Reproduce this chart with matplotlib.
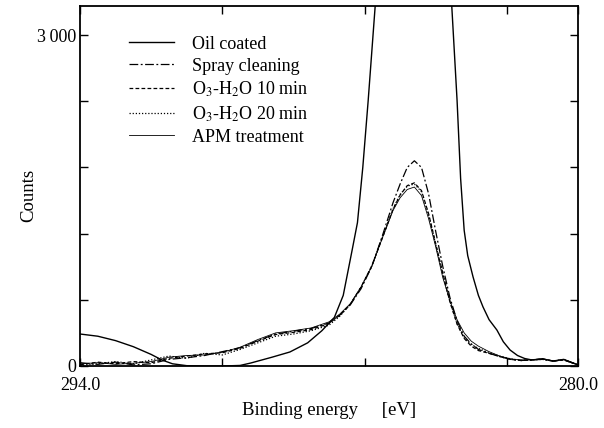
import matplotlib
matplotlib.use("Agg")
import matplotlib.pyplot as plt

plt.rcParams['font.family'] = ['Liberation Serif', 'DejaVu Serif']
plt.rcParams['mathtext.fontset'] = 'stix'

# energies shared by the four cleaned samples
energia = [294.0, 293.5, 293.0, 292.5, 292.0, 291.5, 291.0, 290.5, 290.0, 289.5,
           289.0, 288.5, 288.0, 287.5, 287.0, 286.7, 286.4, 286.1, 285.8, 285.5,
           285.2, 285.0, 284.8, 284.6, 284.4, 284.2, 284.0, 283.8, 283.6, 283.4,
           283.2, 283.0, 282.8, 282.5, 282.2, 281.9, 281.6, 281.3, 281.0, 280.7,
           280.4, 280.0]

spray = [30, 15, 35, 10, 20, 60, 75, 95, 130, 165,
         230, 290, 315, 340, 390, 460, 555, 700, 900, 1180,
         1480, 1650, 1800, 1860, 1800, 1560, 1220, 900, 620, 410,
         270, 200, 150, 115, 85, 60, 50, 55, 60, 45,
         55, 10]

o3_10 = [10, 35, 20, 40, 30, 70, 90, 110, 120, 160,
         225, 285, 305, 330, 385, 460, 560, 715, 905, 1160,
         1420, 1550, 1635, 1660, 1590, 1380, 1110, 840, 580, 380,
         250, 180, 140, 115, 85, 60, 50, 55, 65, 45,
         55, 10]

o3_20 = [5, 20, 40, 20, 55, 90, 70, 115, 100, 150,
         210, 270, 290, 320, 370, 450, 560, 715, 905, 1165,
         1425, 1555, 1630, 1650, 1580, 1370, 1100, 830, 585, 385,
         255, 195, 160, 120, 90, 65, 50, 55, 60, 45,
         60, 10]

apm = [20, 30, 15, 25, 40, 80, 95, 100, 125, 170,
       240, 300, 320, 345, 400, 470, 565, 715, 900, 1160,
       1410, 1525, 1600, 1622, 1545, 1335, 1080, 800, 590, 420,
       300, 225, 180, 130, 90, 65, 55, 55, 65, 45,
       60, 10]

# oil coated sample, peak goes far above the plotted range
energia_aceite = [294.0, 293.5, 293.0, 292.5, 292.0, 291.7, 291.4, 291.0, 290.5, 290.0,
                  289.5, 289.2, 288.6, 288.1, 287.6, 287.2, 286.85, 286.6, 286.35, 286.2,
                  286.05, 285.9, 285.7, 285.4, 285.0, 284.65, 284.3, 283.9, 283.55, 283.4,
                  283.3, 283.2, 283.1, 282.95, 282.8, 282.67, 282.5, 282.28, 282.1, 281.91,
                  281.7, 281.5, 281.3, 281.0, 280.7, 280.4, 280.0]
aceite = [290, 270, 230, 175, 105, 55, 20, 3, 0, 0,
          5, 27, 80, 127, 210, 320, 440, 640, 1050, 1300,
          1800, 2400, 3270, 4500, 5600, 6000, 5600, 4500, 3270, 2410,
          1700, 1230, 1000, 807, 640, 535, 420, 326, 220, 145,
          95, 68, 55, 65, 45, 60, 10]

fig = plt.figure(figsize=(6.04, 4.28), dpi=100)
ax = fig.add_axes([80 / 604, 62 / 428, 498 / 604, 360 / 428])

ax.plot(energia_aceite, aceite, color='black', lw=1.0, label='Oil coated')
ax.plot(energia, spray, color='black', lw=0.9, dashes=(7, 2, 1.5, 2), label='Spray cleaning')
ax.plot(energia, o3_10, color='black', lw=0.9, dashes=(3, 1.8), label='O$_3$-H$_2$O 10 min')
ax.plot(energia, o3_20, color='black', lw=0.9, dashes=(1, 1.5), label='O$_3$-H$_2$O 20 min')
ax.plot(energia, apm, color='black', lw=0.6, label='APM treatment')

ax.set_xlim(294, 280)
ax.set_ylim(0, 3263)
ax.set_xticks([294, 290, 286, 282, 280])
ax.set_xticklabels(['294.0', '', '', '', '280.0'])
ax.set_yticks([0, 600, 1200, 1800, 2400, 3000])
ax.set_yticklabels(['0', '', '', '', '', '3\u2009000'])
ax.tick_params(direction='in', top=True, right=True, length=6, width=1, labelsize=13)
ax.tick_params(axis='x', pad=8)
ax.tick_params(axis='y', pad=3)
for s in ax.spines.values():
    s.set_linewidth(1.3)

ax.set_xlabel('Binding energy     [eV]', fontsize=13.5)
ax.xaxis.set_label_coords(0.5, -0.1)
ax.set_ylabel('Counts', fontsize=13.5)
ax.yaxis.set_label_coords(-0.085, 0.475)

ax.legend(loc='upper left', bbox_to_anchor=(0.066, 0.963), frameon=False, fontsize=13,
          handlelength=2.5, handletextpad=1.0, labelspacing=0.28)

fig.savefig('out.png', dpi=100)
